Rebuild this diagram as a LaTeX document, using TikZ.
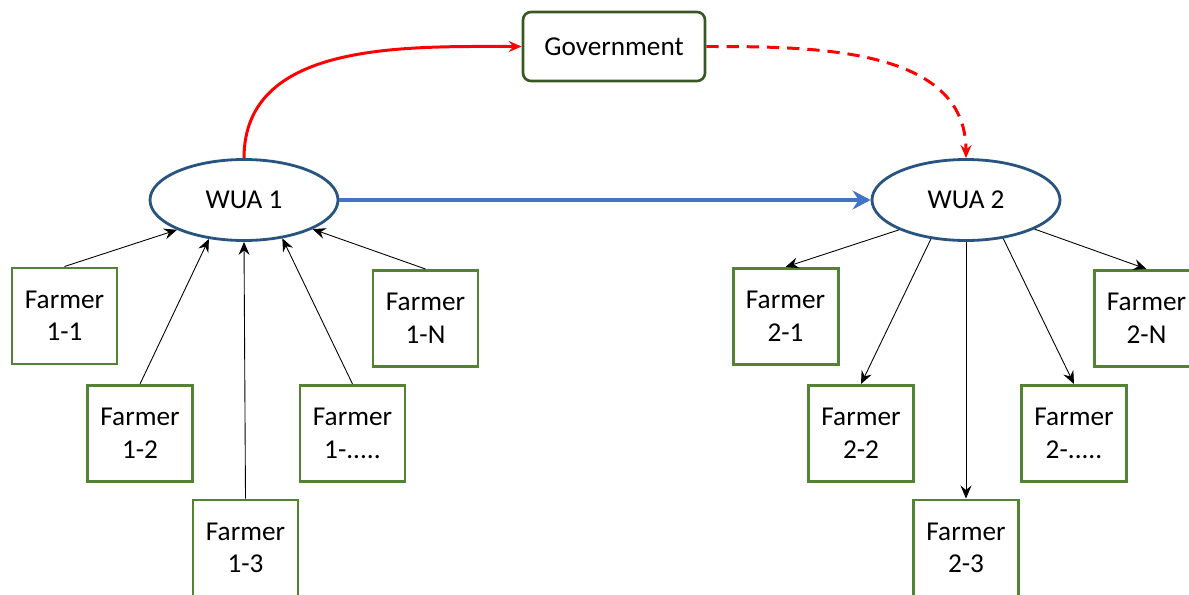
\documentclass[tikz,border=0pt]{standalone}
\usepackage{fontspec}
\setmainfont{Carlito}
\usetikzlibrary{arrows.meta,shapes.geometric}
\definecolor{wuablue}{RGB}{41,84,128}
\definecolor{farmgreen}{RGB}{84,130,53}
\definecolor{govgreen}{RGB}{56,87,35}
\definecolor{linkblue}{RGB}{68,114,196}
\tikzset{>/.tip={Stealth[length=2.6mm,width=2.2mm,inset=0.9mm]},
  wua/.style={ellipse, draw=wuablue, line width=1.6pt, fill=white,
    minimum width=3.76cm, minimum height=1.62cm, inner sep=0pt},
  farmer/.style={rectangle, draw=farmgreen, line width=1.7pt, fill=white,
    minimum width=2.1cm, minimum height=1.92cm, align=center, inner sep=0pt},
  gov/.style={rectangle, rounded corners=0.16cm, draw=govgreen, line width=1.5pt,
    fill=white, minimum width=3.64cm, minimum height=1.38cm, inner sep=0pt},
  thinarrow/.style={->, black, line width=0.5pt}}

\begin{document}
\begin{tikzpicture}[font=\fontsize{15.5}{18.5}\selectfont]
\useasboundingbox (0,0) rectangle (23.78,11.88);
\node[gov] (gov) at (12.28,10.95) {Government};
\node[wua] (wua1) at (4.88,7.88)  {WUA 1};
\node[wua] (wua2) at (19.32,7.88) {WUA 2};
% farmers of WUA 1
\node[farmer] (f11) at (1.29,5.56) {Farmer\\1-1};
\node[farmer] (f12) at (2.80,3.21) {Farmer\\1-2};
\node[farmer] (f13) at (4.91,0.92) {Farmer\\1-3};
\node[farmer] (f1d) at (7.05,3.21) {Farmer\\1-.....};
\node[farmer] (f1n) at (8.51,5.51) {Farmer\\1-N};
% farmers of WUA 2
\node[farmer] (f21) at (15.71,5.55) {Farmer\\2-1};
\node[farmer] (f22) at (17.22,3.21) {Farmer\\2-2};
\node[farmer] (f23) at (19.32,0.92) {Farmer\\2-3};
\node[farmer] (f2d) at (21.48,3.21) {Farmer\\2-.....};
\node[farmer] (f2n) at (22.93,5.51) {Farmer\\2-N};
\foreach \f/\a in {f11/204,f12/228,f13/270,f1d/315,f1n/337}
{
  \draw[thinarrow] (\f.north) -- (wua1.\a);
}
\foreach \f/\a in {f21/204,f22/228,f23/270,f2d/314,f2n/337}
{
  \draw[thinarrow] (wua2.\a) -- (\f.north);
}
\draw[->, linkblue, line width=2pt, >={Stealth[length=3.6mm,width=3.8mm,inset=1.2mm]}] (wua1) -- (wua2);
\draw[->, red, line width=1.7pt] (wua1.north) to[out=90,in=180] (gov.west);
\draw[->, red, line width=1.7pt, dash pattern=on 7pt off 4.5pt] (gov.east) to[out=0,in=90] (wua2.north);
\end{tikzpicture}
\end{document}
